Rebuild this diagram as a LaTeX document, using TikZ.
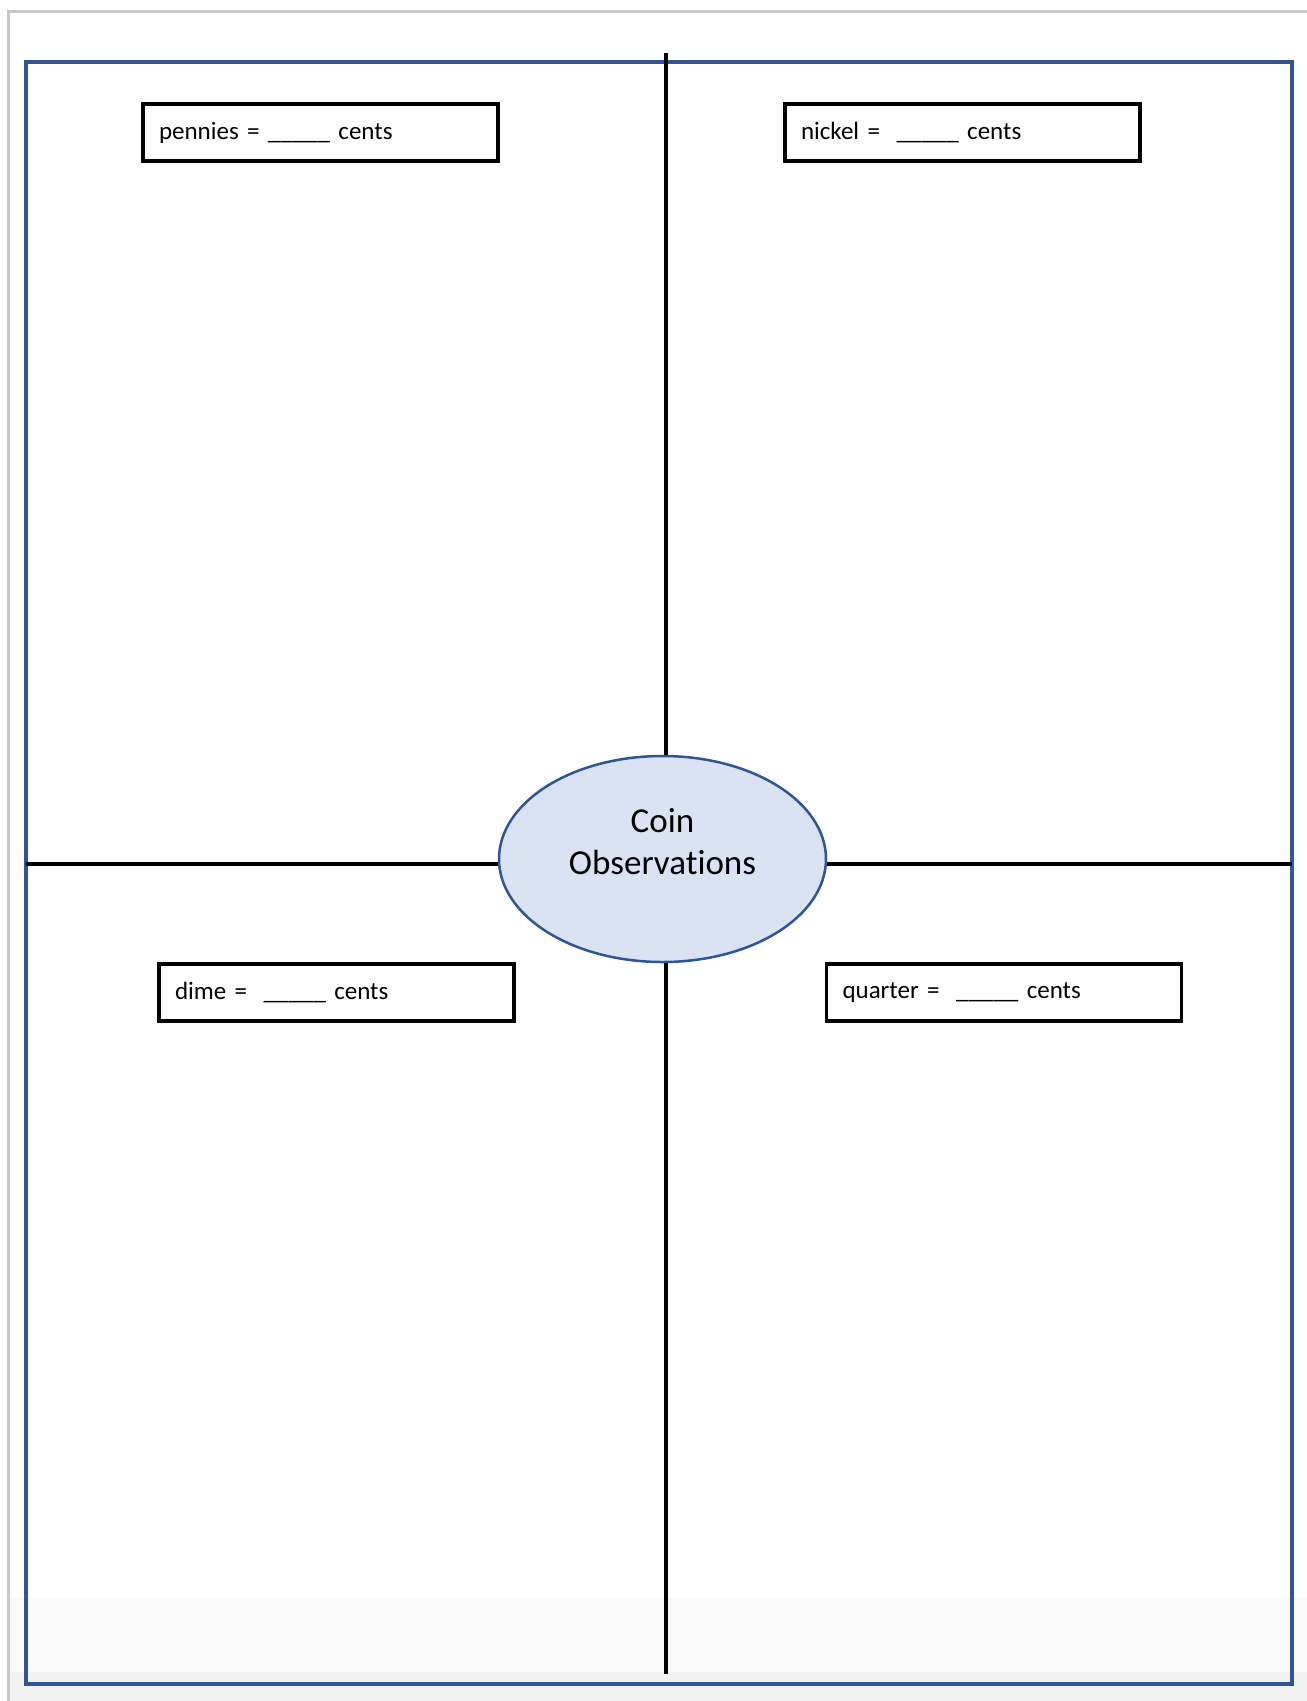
\documentclass[tikz,border=0pt]{standalone}
\usepackage{fontspec}
\setmainfont{Carlito}[Ligatures=NoCommon]
\usetikzlibrary{
    shapes.geometric,
    positioning
}
\definecolor{frameblue}{HTML}{2F5597}
\definecolor{hubfill}{HTML}{DAE3F3}
\definecolor{pagegray}{HTML}{C8C8C8}
\definecolor{bandgray}{HTML}{F9F9F9}
\definecolor{basegray}{HTML}{F2F2F2}
\tikzset{
    coinbox/.style={draw=black, line width=3.2pt, rectangle, text width=323pt,
        inner xsep=16pt, inner ysep=0pt, minimum height=57pt, align=left,
        font=\fontsize{25}{30}\selectfont},
    hub/.style={ellipse, draw=frameblue, line width=2.5pt, fill=hubfill,
        minimum width=327pt, minimum height=206pt, inner sep=0pt},
    hubtext/.style={align=center, inner sep=0pt, font=\fontsize{35}{42}\selectfont},
    divider/.style={draw=black, line width=3.2pt}
}

\begin{document}
\begin{tikzpicture}[x=1pt, y=-1pt]
                        \useasboundingbox (0, 0) rectangle (1307, 1701);

                        % page background
                        \fill[white] (0, 0) rectangle (1307, 1701);
                        \fill[bandgray] (7, 1598) rectangle (1307, 1672);
                        \fill[basegray] (7, 1672) rectangle (1307, 1701);
                        \draw[pagegray, line width=3pt] (8, 1701) -- (8, 11) -- (1307, 11);
                        \draw[frameblue, line width=3.4pt] (26, 62) rectangle (1292, 1684);

                        \node[hub] (coin) at (662.5, 859) {};
                        \node[hubtext] (cointext) at ([yshift=17pt]coin.center) {Coin\\Observations};

                        \coordinate (topend) at (666, 53);
                        \coordinate (bottomend) at (666, 1674);
                        \coordinate (leftend) at (26, 864);
                        \coordinate (rightend) at (1292, 864);

                        \draw[divider] (topend) -- (topend |- coin.north);
                        \draw[divider] (coin.south -| bottomend) -- (bottomend);
                        \draw[divider] (leftend) -- (leftend -| coin.west);
                        \draw[divider] (coin.east |- rightend) -- (rightend);

                        \node[coinbox] (pennies) at (320.5, 132.5) {pennies = \_\_\_\_\_ cents};
                        \node[coinbox] (nickel) at (962.5, 132.5) {nickel = \ \_\_\_\_\_ cents};
                        \node[coinbox] (dime) at (336.5, 992.5) {dime = \ \_\_\_\_\_ cents};
                        \node[coinbox] (quarter) at (1004, 992.5) {quarter = \ \_\_\_\_\_ cents};
                    \end{tikzpicture}
\end{document}
